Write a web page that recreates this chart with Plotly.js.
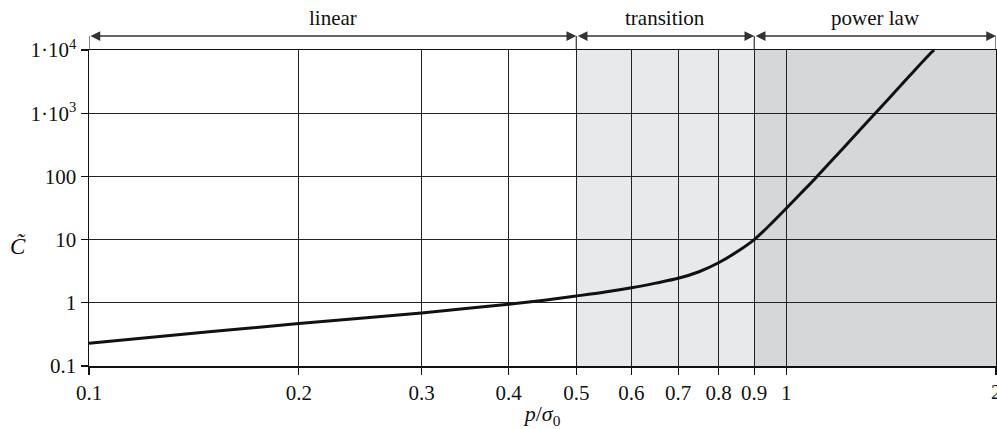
<!DOCTYPE html>
<html>
<head>
<meta charset="utf-8">
<script src="https://cdn.plot.ly/plotly-3.0.1.min.js"></script>
<style>html,body{margin:0;padding:0;background:#fff;}#chart{width:997px;height:429px;}</style>
</head>
<body>
<div id="chart"></div>
<script>
// Curve values (p/sigma0 vs C~)
const pRatio = [0.1, 0.15, 0.2, 0.25, 0.3, 0.35, 0.4, 0.45, 0.5, 0.55, 0.6, 0.65, 0.7, 0.75, 0.8, 0.85, 0.9, 0.95, 1.0, 1.05, 1.1, 1.2, 1.3, 1.4, 1.5, 1.6, 1.63];
const cTilde = [0.23, 0.35, 0.47, 0.58, 0.69, 0.82, 0.95, 1.1, 1.28, 1.48, 1.73, 2.05, 2.44, 3.1, 4.3, 6.4, 10, 17.5, 31, 54, 92, 260, 680, 1650, 3800, 8200, 10000];

const xTickVals = [0.1, 0.2, 0.3, 0.4, 0.5, 0.6, 0.7, 0.8, 0.9, 1, 2];
const xTickText = ['0.1', '0.2', '0.3', '0.4', '0.5', '0.6', '0.7', '0.8', '0.9', '1', '2'];
const yTickVals = [0.1, 1, 10, 100, 1000, 10000];
const yTickText = ['0.1', '1', '10', '100', '1·10<sup>3</sup>', '1·10<sup>4</sup>'];

// Regimes
const regimeNames = ['linear', 'transition', 'power law'];
const regimeStart = [0.1, 0.5, 0.9];
const regimeEnd = [0.5, 0.9, 2];
const regimeFill = ['rgba(0,0,0,0)', '#e8e9eb', '#d6d7d9'];

const L = Math.log10;
const FONT = 'Liberation Serif';
const topPad = 14 / 316;

const shapes = [];
const annotations = [];
regimeNames.forEach((name, i) => {
  if (i > 0) {
    shapes.push({type: 'rect', layer: 'below', xref: 'x', yref: 'paper',
      x0: regimeStart[i], x1: regimeEnd[i], y0: 0, y1: 1,
      fillcolor: regimeFill[i], line: {width: 0}});
  }
  annotations.push({xref: 'x', yref: 'paper', x: L(regimeEnd[i]), y: 1 + topPad,
    axref: 'x', ax: L(regimeStart[i]), ayref: 'pixel', ay: 0,
    text: '', showarrow: true, arrowhead: 2, arrowside: 'end+start',
    arrowsize: 1.3, arrowwidth: 1.5, arrowcolor: '#333', standoff: 0, startstandoff: 0});
  annotations.push({xref: 'x', yref: 'paper',
    x: (L(regimeStart[i]) + L(regimeEnd[i])) / 2, y: 1 + topPad + 0.012,
    yanchor: 'bottom', text: name, showarrow: false,
    font: {family: FONT, size: 21, color: '#111'}});
});
[0.1, 0.5, 0.9, 2].forEach(v => {
  shapes.push({type: 'line', xref: 'x', yref: 'paper', x0: v, x1: v, y0: 1, y1: 1 + topPad,
    line: {color: '#333', width: 1.2}});
});
annotations.push({xref: 'paper', yref: 'paper', x: -0.078, y: 0.38, xanchor: 'center',
  text: '<i>C̃</i>', showarrow: false, font: {family: FONT, size: 23, color: '#111'}});
// the right-most tick label sits on the page edge and is clipped there, as in the reference
annotations.push({xref: 'x', yref: 'paper', x: L(2), y: 0, yshift: -12, yanchor: 'top',
  xanchor: 'center', text: '2', showarrow: false, font: {family: FONT, size: 21, color: '#111'}});

const trace = {x: pRatio, y: cTilde, type: 'scatter', mode: 'lines',
  line: {color: '#111', width: 3, shape: 'spline', smoothing: 1}, hoverinfo: 'skip'};

const axisCommon = {showline: true, mirror: true, linecolor: '#111', linewidth: 1.5,
  ticks: 'outside', ticklen: 7, tickcolor: '#111', tickwidth: 1.2,
  showgrid: true, gridcolor: '#222', gridwidth: 1, zeroline: false,
  tickfont: {family: FONT, size: 21, color: '#111'}};

const layout = {
  width: 997, height: 429,
  margin: {l: 89, r: 1, t: 50, b: 63},
  paper_bgcolor: '#fff', plot_bgcolor: '#fff',
  showlegend: false,
  xaxis: Object.assign({}, axisCommon, {type: 'log', range: [L(0.1), L(2)],
    tickmode: 'array', tickvals: xTickVals, ticktext: xTickText,
    title: {text: '<i>p</i>/<i>σ</i><sub>0</sub>', standoff: 8,
      font: {family: FONT, size: 22, color: '#111'}}}),
  yaxis: Object.assign({}, axisCommon, {type: 'log', range: [-1, 4],
    tickmode: 'array', tickvals: yTickVals, ticktext: yTickText}),
  shapes: shapes,
  annotations: annotations
};

Plotly.newPlot('chart', [trace], layout, {displayModeBar: false, staticPlot: true});
</script>
</body>
</html>
